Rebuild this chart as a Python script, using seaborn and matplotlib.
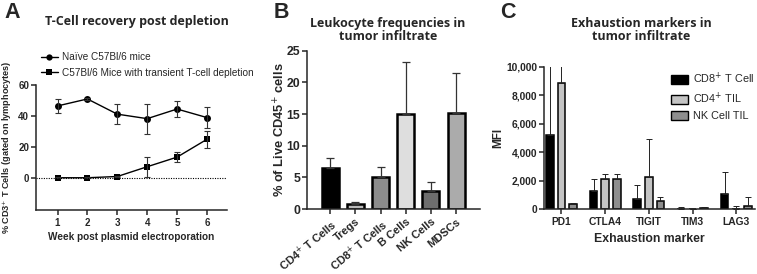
import numpy as np
import pandas as pd
import matplotlib
matplotlib.use("Agg")
import matplotlib.pyplot as plt
import seaborn as sns
from matplotlib.lines import Line2D
from matplotlib.patches import Patch

# ---------------- data ----------------
weeks = [1, 2, 3, 4, 5, 6]
naive_mean = [46.5, 51.0, 41.2, 38.3, 44.5, 39.0]
naive_err = [4.5, 0.5, 6.3, 9.6, 5.2, 6.8]
depl_mean = [0.2, 0.2, 1.0, 7.3, 13.5, 25.0]
depl_err = [0.3, 0.3, 0.5, 6.3, 3.0, 5.4]
series_a = ["Naïve C57Bl/6 mice", "C57Bl/6 Mice with transient T-cell depletion"]

cells = ["CD4$^{+}$ T Cells", "Tregs", "CD8$^{+}$ T Cells", "B Cells", "NK Cells", "MDSCs"]
freq = [6.5, 0.8, 5.1, 15.0, 2.9, 15.2]
freq_err = [1.5, 0.3, 1.5, 8.2, 1.3, 6.2]
cell_colors = ["#000000", "#bcbcbc", "#8c8c8c", "#dedede", "#6e6e6e", "#ababab"]

markers_c = ["PD1", "CTLA4", "TIGIT", "TIM3", "LAG3"]
groups_c = ["CD8$^{+}$ T Cell", "CD4$^{+}$ TIL", "NK Cell TIL"]
cd8_mfi = [5200, 1300, 700, 50, 1050]
cd8_err = [5400, 800, 1000, 100, 1550]
cd4_mfi = [8850, 2150, 2300, 0, 30]
cd4_err = [1500, 300, 2650, 0, 170]
nk_mfi = [350, 2150, 550, 60, 250]
nk_err = [60, 330, 300, 90, 630]
group_colors = ["#000000", "#c4c4c4", "#8e8e8e"]

# ---------------- style ----------------
sns.set_theme(style="ticks")
plt.rcParams["font.family"] = ["Liberation Sans", "DejaVu Sans"]
plt.rcParams["axes.linewidth"] = 1.1
plt.rcParams["xtick.major.width"] = 1.1
plt.rcParams["ytick.major.width"] = 1.1
plt.rcParams["xtick.major.size"] = 3.5
plt.rcParams["ytick.major.size"] = 3.5
plt.rcParams["xtick.major.pad"] = 2
plt.rcParams["ytick.major.pad"] = 1.5

W, H = 757, 274
fig = plt.figure(figsize=(W / 100, H / 100), dpi=100)


def px_axes(l, t, r, b):
    return fig.add_axes([l / W, 1 - b / H, (r - l) / W, (b - t) / H])


title_kw = dict(family=["Open Sans", "DejaVu Sans"], fontweight="bold", fontsize=9.0,
                ha="center", va="center", linespacing=1.05)
letter_kw = dict(family=["Liberation Sans"], fontweight="bold", fontsize=15.5, ha="center", va="center")

# ---------------- panel A ----------------
axA = px_axes(36, 85, 227, 210)
dfA = pd.DataFrame({
    "week": weeks * 2,
    "value": naive_mean + depl_mean,
    "group": [series_a[0]] * 6 + [series_a[1]] * 6,
})
sns.lineplot(data=dfA, x="week", y="value", hue="group", style="group",
             markers=["o", "s"], dashes=False, palette=["black", "black"],
             markersize=5, linewidth=1.0, markeredgewidth=0, ax=axA, legend=False)
axA.errorbar(weeks, naive_mean, yerr=naive_err, fmt="none", ecolor="#333333",
             elinewidth=0.8, capsize=2.5, capthick=0.8)
axA.errorbar(weeks, depl_mean, yerr=depl_err, fmt="none", ecolor="#333333",
             elinewidth=0.8, capsize=2.5, capthick=0.8)
axA.axhline(0, color="black", ls=(0, (1, 1.2)), lw=0.8)
axA.set_xlim(0.28, 6.67)
axA.set_ylim(-20.6, 60)
axA.set_xticks(weeks)
axA.set_yticks([0, 20, 40, 60])
sns.despine(ax=axA)
for lab in axA.get_xticklabels() + axA.get_yticklabels():
    lab.set_fontweight("bold")
    lab.set_fontsize(7)
axA.set_xlabel("Week post plasmid electroporation", fontsize=7.2, fontweight="bold")
axA.set_ylabel("% CD3$^{+}$ T Cells (gated on lymphocytes)", fontsize=6.6, fontweight="bold")
axA.xaxis.set_label_coords(0.5, -0.18)
axA.yaxis.set_label_coords(-0.115, 0.5)
legA = [Line2D([0], [0], color="black", lw=1.0, marker="o", markersize=4.5, markeredgewidth=0),
        Line2D([0], [0], color="black", lw=1.0, marker="s", markersize=4.5, markeredgewidth=0)]
axA.legend(legA, series_a, loc="lower left", bbox_to_anchor=(0.02, 1.05), frameon=False,
           fontsize=7.2, handlelength=1.7, handletextpad=0.4, labelspacing=0.55,
           borderaxespad=0.0, borderpad=0.1)
fig.text(137 / W, 1 - 21 / H, "T-Cell recovery post depletion", **title_kw)
fig.text(12 / W, 1 - 12 / H, "A", **letter_kw)

# ---------------- panel B ----------------
axB = px_axes(307, 50.7, 480, 209)
dfB = pd.DataFrame({"cell": cells, "freq": freq})
sns.barplot(data=dfB, x="cell", y="freq", hue="cell", palette=cell_colors, legend=False,
            width=0.68, edgecolor="black", linewidth=1.8, ax=axB, errorbar=None)
xpos = np.arange(len(cells))
for x, v, e in zip(xpos, freq, freq_err):
    axB.errorbar([x], [v], yerr=[[0], [e]], fmt="none", ecolor="#333333",
                 elinewidth=0.9, capsize=3, capthick=0.9, zorder=1)
axB.set_xlim(-0.92, 5.95)
axB.set_ylim(0, 25)
axB.set_yticks([0, 5, 10, 15, 20, 25])
sns.despine(ax=axB)
axB.set_xlabel("")
for lab in axB.get_yticklabels():
    lab.set_fontweight("bold")
    lab.set_fontsize(8.8)
axB.set_xticks(xpos)
axB.set_xticklabels(cells, rotation=40, ha="right", rotation_mode="anchor",
                    fontsize=8.0, fontweight="bold")
axB.set_ylabel("% of Live CD45$^{+}$ cells", fontsize=9.3, fontweight="bold")
axB.yaxis.set_label_coords(-0.115, 0.5)
fig.text(388 / W, 1 - 30 / H, "Leukocyte frequencies in\ntumor infiltrate", **title_kw)
fig.text(281 / W, 1 - 12 / H, "B", **letter_kw)

# ---------------- panel C ----------------
axC = px_axes(544, 66.7, 755, 209.3)
dfC = pd.DataFrame({
    "marker": markers_c * 3,
    "mfi": cd8_mfi + cd4_mfi + nk_mfi,
    "group": [groups_c[0]] * 5 + [groups_c[1]] * 5 + [groups_c[2]] * 5,
})
sns.barplot(data=dfC, x="marker", y="mfi", hue="group", palette=group_colors,
            width=0.8, gap=0.36, edgecolor="black", linewidth=1.1, ax=axC,
            errorbar=None, legend=False)
for cont, vals, errs in zip(axC.containers, [cd8_mfi, cd4_mfi, nk_mfi], [cd8_err, cd4_err, nk_err]):
    centers = [p.get_x() + p.get_width() / 2 for p in cont.patches]
    axC.errorbar(centers, vals, yerr=[np.zeros(len(errs)), errs], fmt="none",
                 ecolor="#222222", elinewidth=0.7, capsize=2.2, capthick=0.7, zorder=1)
axC.set_xlim(-0.4, 4.43)
axC.set_ylim(0, 10000)
axC.set_yticks([0, 2000, 4000, 6000, 8000, 10000])
axC.set_yticklabels(["0", "2,000", "4,000", "6,000", "8,000", "10,000"])
sns.despine(ax=axC)
for lab in axC.get_xticklabels() + axC.get_yticklabels():
    lab.set_fontweight("bold")
    lab.set_fontsize(7.4)
axC.set_xlabel("Exhaustion marker", fontsize=8.8, fontweight="bold")
axC.set_ylabel("MFI", fontsize=8.5, fontweight="bold")
axC.xaxis.set_label_coords(0.5, -0.165)
axC.yaxis.set_label_coords(-0.19, 0.5)
legC = [Patch(facecolor=c, edgecolor="black", linewidth=1.0) for c in group_colors]
axC.legend(legC, groups_c, loc="upper right", bbox_to_anchor=(1.0, 0.98), frameon=False,
           fontsize=7.8, handlelength=1.6, handleheight=0.9, handletextpad=0.4,
           labelspacing=0.45, borderaxespad=0.0, borderpad=0.1)
fig.text(641 / W, 1 - 30 / H, "Exhaustion markers in\ntumor infiltrate", **title_kw)
fig.text(508 / W, 1 - 12 / H, "C", **letter_kw)

fig.savefig("out.png", dpi=100)
